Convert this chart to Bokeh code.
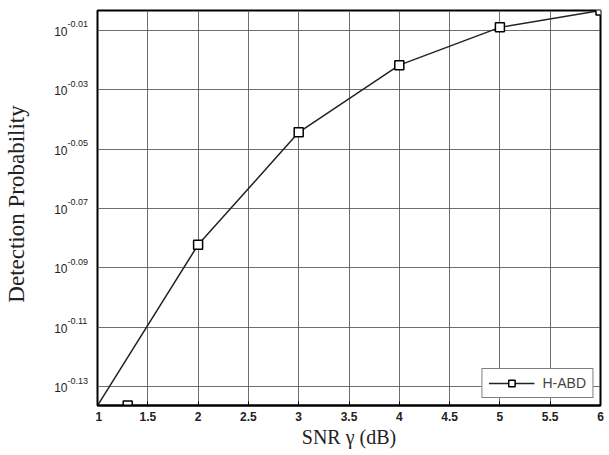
import math
from bokeh.plotting import figure
from bokeh.layouts import row
from bokeh.models import FixedTicker, Range1d, Legend, LegendItem
from bokeh.core.properties import value
from bokeh.embed import file_html
from bokeh.resources import INLINE

# Data
snr_db = [1, 2, 3, 4, 5, 6]
pd_vals = [0.7305, 0.8275, 0.9029, 0.9512, 0.9795, 0.9924]
marker_x = [1.3, 2, 3, 4, 5, 6]
marker_y = [0.7305, 0.8275, 0.9029, 0.9512, 0.9795, 0.9924]
y_tick_exps = [-0.13, -0.11, -0.09, -0.07, -0.05, -0.03, -0.01]
y_tick_sups = ["-0.13", "-0.11", "-0.09", "-0.07", "-0.05", "-0.03", "-0.01"]
x_ticks = [1, 1.5, 2, 2.5, 3, 3.5, 4, 4.5, 5, 5.5, 6]
x_tick_labels = ["1", "1.5", "2", "2.5", "3", "3.5", "4", "4.5", "5", "5.5", "6"]
series_name = "H-ABD"
x_title = "SNR γ (dB)"
y_title = "Detection Probability"

TOP, BOTTOM = 10, 50
LEFT_W = 95
y_range = Range1d(0.7305, 0.9924)
yt = [10 ** e for e in y_tick_exps]

# ---- left strip holding the y tick labels and y title ----
lab = figure(width=LEFT_W, height=455, y_axis_type="log",
             x_range=Range1d(0, LEFT_W), y_range=y_range,
             x_axis_location=None, y_axis_location=None,
             output_backend="svg", toolbar_location=None,
             min_border_left=0, min_border_right=0,
             min_border_top=TOP, min_border_bottom=BOTTOM)
lab.outline_line_color = None
lab.grid.visible = False
lab.background_fill_color = "white"
lab.border_fill_color = "white"

lab.text(x=[LEFT_W - 28] * len(yt), y=yt, text=["10"] * len(yt),
         text_align="right", text_baseline="middle",
         text_font=value("Liberation Sans"), text_font_size="12px",
         text_color="#222222", y_offset=1)
lab.text(x=[LEFT_W - 28] * len(yt), y=yt, text=y_tick_sups,
         text_align="left", text_baseline="middle",
         text_font=value("Liberation Sans"), text_font_size="9px",
         text_color="#222222", y_offset=-6)
ymid = math.sqrt(y_range.start * y_range.end)
lab.text(x=[16], y=[ymid], text=[y_title], angle=math.pi / 2,
         text_align="center", text_baseline="middle",
         text_font=value("Liberation Serif"), text_font_size="23px",
         text_color="#222222", y_offset=-4)

# ---- main plot ----
p = figure(width=609 - LEFT_W, height=455, y_axis_type="log",
           x_range=Range1d(1, 6), y_range=y_range,
           y_axis_location=None,
           output_backend="svg", toolbar_location=None,
           min_border_left=2, min_border_right=9,
           min_border_top=TOP, min_border_bottom=BOTTOM)
p.background_fill_color = "white"
p.border_fill_color = "white"
p.outline_line_color = "black"
p.outline_line_width = 2

p.xaxis.ticker = FixedTicker(ticks=x_ticks)
p.xaxis.major_label_overrides = {t: s for t, s in zip(x_ticks, x_tick_labels)}
p.xaxis.major_label_text_font = "Liberation Sans"
p.xaxis.major_label_text_font_size = "12px"
p.xaxis.major_label_text_font_style = "bold"
p.xaxis.major_label_text_color = "#222222"
p.xaxis.major_label_standoff = 6
p.xaxis.axis_label = x_title
p.xaxis.axis_label_text_font = "Liberation Serif"
p.xaxis.axis_label_text_font_size = "20px"
p.xaxis.axis_label_text_font_style = "normal"
p.xaxis.axis_label_text_color = "#222222"
p.xaxis.axis_label_standoff = 2
p.xaxis.axis_line_color = "black"
p.xaxis.axis_line_width = 2
p.xaxis.major_tick_in = 4
p.xaxis.major_tick_out = 0
p.xaxis.major_tick_line_color = "black"
p.xaxis.minor_tick_line_color = None

p.xgrid.ticker = FixedTicker(ticks=x_ticks)
p.ygrid.ticker = FixedTicker(ticks=yt)
p.grid.grid_line_color = "#555555"
p.grid.grid_line_width = 1
p.grid.grid_line_alpha = 0.85

r_line = p.line(snr_db, pd_vals, line_color="#222222", line_width=1.5)
r_mark = p.scatter(marker_x, marker_y, marker="square", size=9,
                   fill_color="white", line_color="black", line_width=1.5)

legend = Legend(items=[LegendItem(label=series_name, renderers=[r_line, r_mark])],
                location="bottom_right")
legend.margin = 7
legend.glyph_width = 46
legend.glyph_height = 16
legend.padding = 6
legend.spacing = 0
legend.label_text_font = "Liberation Sans"
legend.label_text_font_size = "14px"
legend.label_standoff = 8
legend.border_line_color = "black"
legend.border_line_width = 1
legend.background_fill_alpha = 1
p.add_layout(legend, "center")

layout = row(lab, p, spacing=0)
open("out.html", "w").write(file_html(layout, INLINE))
